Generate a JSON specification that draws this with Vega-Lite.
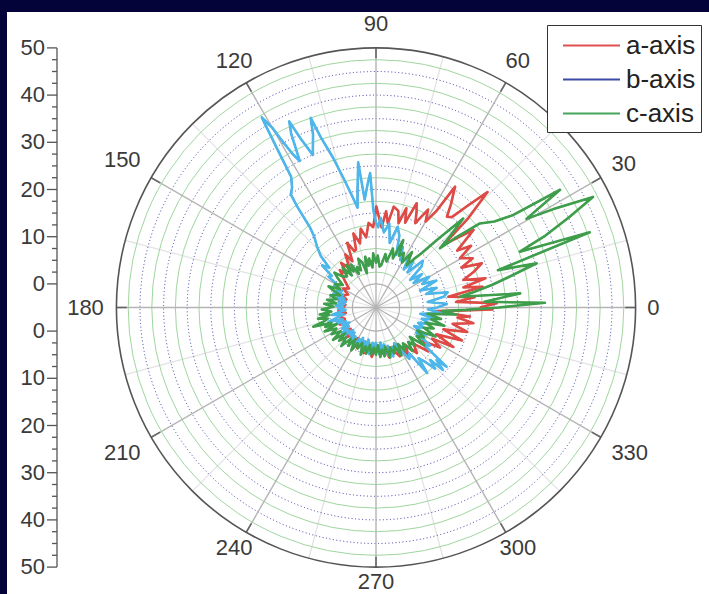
{
  "$schema": "https://vega.github.io/schema/vega-lite/v6.json",
  "width": 702,
  "height": 582,
  "autosize": {"type": "none"},
  "padding": {"left": 7, "top": 12, "right": 0, "bottom": 0},
  "background": "#03033a",
  "config": {"view": {"fill": "white", "stroke": null}, "font": "Liberation Sans"},
  "datasets": {
    "ringdata": [
      {"rr": 5, "k": "in"}, {"rr": 55, "k": "out"},
      {"rr": 7.5, "k": "g"}, {"rr": 12.5, "k": "g"}, {"rr": 17.5, "k": "g"}, {"rr": 22.5, "k": "g"}, {"rr": 27.5, "k": "g"},
      {"rr": 32.5, "k": "g"}, {"rr": 37.5, "k": "g"}, {"rr": 42.5, "k": "g"}, {"rr": 47.5, "k": "g"}, {"rr": 52.5, "k": "g"},
      {"rr": 10, "k": "b"}, {"rr": 15, "k": "b"}, {"rr": 20, "k": "b"}, {"rr": 25, "k": "b"}, {"rr": 30, "k": "b"},
      {"rr": 35, "k": "b"}, {"rr": 40, "k": "b"}, {"rr": 45, "k": "b"}, {"rr": 50, "k": "b"}
    ],
    "spokedata": [
      {"a": 0, "t": "0", "m": 1}, {"a": 15, "m": 0}, {"a": 30, "t": "30", "m": 1}, {"a": 45, "m": 0},
      {"a": 60, "t": "60", "m": 1}, {"a": 75, "m": 0}, {"a": 90, "t": "90", "m": 1}, {"a": 105, "m": 0},
      {"a": 120, "t": "120", "m": 1}, {"a": 135, "m": 0}, {"a": 150, "t": "150", "m": 1}, {"a": 165, "m": 0},
      {"a": 180, "t": "180", "m": 1}, {"a": 195, "m": 0}, {"a": 210, "t": "210", "m": 1}, {"a": 225, "m": 0},
      {"a": 240, "t": "240", "m": 1}, {"a": 255, "m": 0}, {"a": 270, "t": "270", "m": 1}, {"a": 285, "m": 0},
      {"a": 300, "t": "300", "m": 1}, {"a": 315, "m": 0}, {"a": 330, "t": "330", "m": 1}, {"a": 345, "m": 0}
    ],
    "tickdata": [
      {"v": -55, "major": 1}, {"v": -52.5, "major": 0}, {"v": -50, "major": 0}, {"v": -47.5, "major": 0}, {"v": -45, "major": 1},
      {"v": -42.5, "major": 0}, {"v": -40, "major": 0}, {"v": -37.5, "major": 0}, {"v": -35, "major": 1}, {"v": -32.5, "major": 0},
      {"v": -30, "major": 0}, {"v": -27.5, "major": 0}, {"v": -25, "major": 1}, {"v": -22.5, "major": 0}, {"v": -20, "major": 0},
      {"v": -17.5, "major": 0}, {"v": -15, "major": 1}, {"v": -12.5, "major": 0}, {"v": -10, "major": 0}, {"v": -7.5, "major": 0},
      {"v": -5, "major": 1}, {"v": 5, "major": 1}, {"v": 7.5, "major": 0}, {"v": 10, "major": 0}, {"v": 12.5, "major": 0},
      {"v": 15, "major": 1}, {"v": 17.5, "major": 0}, {"v": 20, "major": 0}, {"v": 22.5, "major": 0}, {"v": 25, "major": 1},
      {"v": 27.5, "major": 0}, {"v": 30, "major": 0}, {"v": 32.5, "major": 0}, {"v": 35, "major": 1}, {"v": 37.5, "major": 0},
      {"v": 40, "major": 0}, {"v": 42.5, "major": 0}, {"v": 45, "major": 1}, {"v": 47.5, "major": 0}, {"v": 50, "major": 0},
      {"v": 52.5, "major": 0}, {"v": 55, "major": 1}
    ],
    "seriesdata": [
      {"s":"a-axis","a":0,"r":17},{"s":"a-axis","a":2,"r":20.6},{"s":"a-axis","a":4,"r":12},{"s":"a-axis","a":6,"r":16},{"s":"a-axis","a":8.5,"r":10.5},{"s":"a-axis","a":11,"r":18},{"s":"a-axis","a":13,"r":14},{"s":"a-axis","a":15,"r":19},{"s":"a-axis","a":17.5,"r":14.4},{"s":"a-axis","a":20,"r":17},{"s":"a-axis","a":22.7,"r":19.3},{"s":"a-axis","a":25,"r":15},{"s":"a-axis","a":27,"r":18},{"s":"a-axis","a":30.4,"r":15.6},{"s":"a-axis","a":33,"r":19},{"s":"a-axis","a":35,"r":16},{"s":"a-axis","a":38.5,"r":21.4},{"s":"a-axis","a":41,"r":17},{"s":"a-axis","a":42.9,"r":14.5},{"s":"a-axis","a":44,"r":22},{"s":"a-axis","a":46,"r":29},{"s":"a-axis","a":48,"r":24},{"s":"a-axis","a":50,"r":20},{"s":"a-axis","a":52,"r":19.4},{"s":"a-axis","a":54,"r":22},{"s":"a-axis","a":56.8,"r":25.6},{"s":"a-axis","a":58,"r":19},{"s":"a-axis","a":60,"r":16},{"s":"a-axis","a":62,"r":18.5},{"s":"a-axis","a":65,"r":14.7},{"s":"a-axis","a":67,"r":17},{"s":"a-axis","a":68.7,"r":18.7},{"s":"a-axis","a":71,"r":14},{"s":"a-axis","a":73,"r":17},{"s":"a-axis","a":75,"r":13.5},{"s":"a-axis","a":77,"r":16},{"s":"a-axis","a":80,"r":16.7},{"s":"a-axis","a":82,"r":13},{"s":"a-axis","a":84,"r":15.5},{"s":"a-axis","a":86,"r":12},{"s":"a-axis","a":88,"r":14},{"s":"a-axis","a":89.8,"r":16.4},{"s":"a-axis","a":92,"r":12},{"s":"a-axis","a":95,"r":13},{"s":"a-axis","a":98,"r":10},{"s":"a-axis","a":101,"r":12},{"s":"a-axis","a":104,"r":9},{"s":"a-axis","a":107,"r":11.4},{"s":"a-axis","a":109,"r":8},{"s":"a-axis","a":111,"r":7.8},{"s":"a-axis","a":114,"r":10},{"s":"a-axis","a":117,"r":6},{"s":"a-axis","a":120,"r":8},{"s":"a-axis","a":124,"r":5},{"s":"a-axis","a":128,"r":7},{"s":"a-axis","a":131,"r":4.5},{"s":"a-axis","a":134,"r":6},{"s":"a-axis","a":140,"r":3.5},{"s":"a-axis","a":145,"r":2},{"s":"a-axis","a":150,"r":3},{"s":"a-axis","a":155,"r":1.5},{"s":"a-axis","a":160,"r":2.5},{"s":"a-axis","a":165,"r":1.5},{"s":"a-axis","a":170,"r":3},{"s":"a-axis","a":175,"r":1.5},{"s":"a-axis","a":180,"r":2},{"s":"a-axis","a":185,"r":3},{"s":"a-axis","a":190,"r":1.5},{"s":"a-axis","a":195,"r":3},{"s":"a-axis","a":200,"r":2},{"s":"a-axis","a":205,"r":3.5},{"s":"a-axis","a":210,"r":2},{"s":"a-axis","a":215,"r":3},{"s":"a-axis","a":220,"r":2},{"s":"a-axis","a":225,"r":4},{"s":"a-axis","a":230,"r":2.5},{"s":"a-axis","a":235,"r":4},{"s":"a-axis","a":240,"r":2.5},{"s":"a-axis","a":245,"r":4.5},{"s":"a-axis","a":250,"r":3},{"s":"a-axis","a":255,"r":5},{"s":"a-axis","a":260,"r":3},{"s":"a-axis","a":265,"r":5.5},{"s":"a-axis","a":270,"r":3.5},{"s":"a-axis","a":275,"r":5},{"s":"a-axis","a":280,"r":3.5},{"s":"a-axis","a":285,"r":6},{"s":"a-axis","a":290,"r":4},{"s":"a-axis","a":296,"r":6.5},{"s":"a-axis","a":300,"r":4.5},{"s":"a-axis","a":304,"r":7.5},{"s":"a-axis","a":308,"r":5},{"s":"a-axis","a":312,"r":8},{"s":"a-axis","a":316,"r":6},{"s":"a-axis","a":320,"r":9.5},{"s":"a-axis","a":324,"r":7},{"s":"a-axis","a":328,"r":11},{"s":"a-axis","a":331,"r":8.6},{"s":"a-axis","a":333,"r":13.4},{"s":"a-axis","a":336,"r":9},{"s":"a-axis","a":339,"r":14.5},{"s":"a-axis","a":342,"r":10},{"s":"a-axis","a":345,"r":15},{"s":"a-axis","a":348,"r":11.6},{"s":"a-axis","a":350.8,"r":15.9},{"s":"a-axis","a":353,"r":12.4},{"s":"a-axis","a":354.5,"r":15},{"s":"a-axis","a":356.5,"r":7.7},{"s":"a-axis","a":358,"r":13.5},{"s":"a-axis","a":359,"r":19.7},{"s":"a-axis","a":360,"r":17},

      {"s":"b-axis","a":0,"r":8},{"s":"b-axis","a":3,"r":10},{"s":"b-axis","a":6,"r":6},{"s":"b-axis","a":9,"r":9.5},{"s":"b-axis","a":12,"r":10.5},{"s":"b-axis","a":15,"r":6},{"s":"b-axis","a":18,"r":8.5},{"s":"b-axis","a":21,"r":5},{"s":"b-axis","a":24,"r":9},{"s":"b-axis","a":27,"r":6},{"s":"b-axis","a":30,"r":8},{"s":"b-axis","a":33,"r":4.5},{"s":"b-axis","a":36,"r":7},{"s":"b-axis","a":39,"r":4.3},{"s":"b-axis","a":42,"r":8},{"s":"b-axis","a":45,"r":9},{"s":"b-axis","a":48,"r":5},{"s":"b-axis","a":51,"r":7.5},{"s":"b-axis","a":54,"r":5},{"s":"b-axis","a":57,"r":8},{"s":"b-axis","a":60,"r":6.5},{"s":"b-axis","a":63,"r":6.3},{"s":"b-axis","a":66,"r":9},{"s":"b-axis","a":69,"r":7},{"s":"b-axis","a":72,"r":11},{"s":"b-axis","a":75,"r":12.7},{"s":"b-axis","a":78,"r":9},{"s":"b-axis","a":81,"r":13},{"s":"b-axis","a":84,"r":11},{"s":"b-axis","a":87,"r":14},{"s":"b-axis","a":88.5,"r":12},{"s":"b-axis","a":90,"r":13},{"s":"b-axis","a":91.5,"r":15.5},{"s":"b-axis","a":92.5,"r":23.5},{"s":"b-axis","a":94,"r":21},{"s":"b-axis","a":96,"r":18},{"s":"b-axis","a":97,"r":26},{"s":"b-axis","a":99,"r":20},{"s":"b-axis","a":100.5,"r":16.5},{"s":"b-axis","a":102,"r":19},{"s":"b-axis","a":104,"r":23},{"s":"b-axis","a":106,"r":28},{"s":"b-axis","a":108,"r":33},{"s":"b-axis","a":109,"r":37.5},{"s":"b-axis","a":110,"r":34},{"s":"b-axis","a":112.5,"r":30},{"s":"b-axis","a":114,"r":34},{"s":"b-axis","a":115,"r":38.5},{"s":"b-axis","a":116,"r":36},{"s":"b-axis","a":117.5,"r":30},{"s":"b-axis","a":118.5,"r":32},{"s":"b-axis","a":119.5,"r":36},{"s":"b-axis","a":120,"r":39},{"s":"b-axis","a":121,"r":42},{"s":"b-axis","a":122,"r":34},{"s":"b-axis","a":123,"r":28},{"s":"b-axis","a":125,"r":26},{"s":"b-axis","a":127,"r":25},{"s":"b-axis","a":128,"r":22},{"s":"b-axis","a":129.5,"r":17},{"s":"b-axis","a":131,"r":15},{"s":"b-axis","a":134,"r":13},{"s":"b-axis","a":137,"r":11},{"s":"b-axis","a":139.5,"r":8},{"s":"b-axis","a":142,"r":9.5},{"s":"b-axis","a":144.5,"r":6.5},{"s":"b-axis","a":147,"r":7},{"s":"b-axis","a":149.5,"r":4.5},{"s":"b-axis","a":152,"r":5},{"s":"b-axis","a":154.5,"r":3},{"s":"b-axis","a":157,"r":4},{"s":"b-axis","a":159.5,"r":2.5},{"s":"b-axis","a":162,"r":4.5},{"s":"b-axis","a":164.5,"r":2},{"s":"b-axis","a":167,"r":3.5},{"s":"b-axis","a":169.5,"r":1.5},{"s":"b-axis","a":172,"r":3},{"s":"b-axis","a":174.5,"r":1.8},{"s":"b-axis","a":177,"r":3.5},{"s":"b-axis","a":179.5,"r":2},{"s":"b-axis","a":182,"r":3},{"s":"b-axis","a":184.5,"r":1.5},{"s":"b-axis","a":187,"r":2.8},{"s":"b-axis","a":189.5,"r":4.5},{"s":"b-axis","a":192,"r":2},{"s":"b-axis","a":194.5,"r":3.5},{"s":"b-axis","a":197,"r":5.5},{"s":"b-axis","a":199.5,"r":2.5},{"s":"b-axis","a":202,"r":4},{"s":"b-axis","a":204.5,"r":2},{"s":"b-axis","a":207,"r":3},{"s":"b-axis","a":209.5,"r":1.5},{"s":"b-axis","a":212,"r":3.5},{"s":"b-axis","a":214.5,"r":2},{"s":"b-axis","a":217,"r":4},{"s":"b-axis","a":219.5,"r":2.5},{"s":"b-axis","a":222,"r":3.5},{"s":"b-axis","a":224.5,"r":1.8},{"s":"b-axis","a":227,"r":3},{"s":"b-axis","a":229.5,"r":2},{"s":"b-axis","a":232,"r":4},{"s":"b-axis","a":234.5,"r":2.5},{"s":"b-axis","a":237,"r":3.5},{"s":"b-axis","a":239.5,"r":5},{"s":"b-axis","a":242,"r":2.5},{"s":"b-axis","a":244.5,"r":4},{"s":"b-axis","a":247,"r":2},{"s":"b-axis","a":249.5,"r":3.5},{"s":"b-axis","a":252,"r":2.5},{"s":"b-axis","a":254.5,"r":4.5},{"s":"b-axis","a":257,"r":2},{"s":"b-axis","a":259.5,"r":3.5},{"s":"b-axis","a":262,"r":5},{"s":"b-axis","a":264.5,"r":2.5},{"s":"b-axis","a":267,"r":4},{"s":"b-axis","a":269.5,"r":2.5},{"s":"b-axis","a":272,"r":3.5},{"s":"b-axis","a":274.5,"r":5},{"s":"b-axis","a":277,"r":2.5},{"s":"b-axis","a":279.5,"r":4},{"s":"b-axis","a":282,"r":3},{"s":"b-axis","a":284.5,"r":5.5},{"s":"b-axis","a":287,"r":3.5},{"s":"b-axis","a":289.5,"r":6},{"s":"b-axis","a":292,"r":4},{"s":"b-axis","a":294.5,"r":5},{"s":"b-axis","a":297,"r":3.5},{"s":"b-axis","a":300,"r":5.3},{"s":"b-axis","a":303,"r":8},{"s":"b-axis","a":306,"r":7},{"s":"b-axis","a":308,"r":12.6},{"s":"b-axis","a":310,"r":9},{"s":"b-axis","a":312,"r":10.4},{"s":"b-axis","a":314,"r":13},{"s":"b-axis","a":316,"r":11},{"s":"b-axis","a":317,"r":14.4},{"s":"b-axis","a":319,"r":12},{"s":"b-axis","a":320,"r":14.5},{"s":"b-axis","a":322,"r":8},{"s":"b-axis","a":325,"r":9},{"s":"b-axis","a":328,"r":5},{"s":"b-axis","a":331,"r":7},{"s":"b-axis","a":334,"r":4},{"s":"b-axis","a":337,"r":6},{"s":"b-axis","a":340,"r":4.5},{"s":"b-axis","a":343,"r":7},{"s":"b-axis","a":346,"r":5},{"s":"b-axis","a":349,"r":8},{"s":"b-axis","a":352,"r":4.5},{"s":"b-axis","a":355,"r":9},{"s":"b-axis","a":358,"r":6},{"s":"b-axis","a":360,"r":8},

      {"s":"c-axis","a":0,"r":21},{"s":"c-axis","a":1.6,"r":30.8},{"s":"c-axis","a":3,"r":18},{"s":"c-axis","a":5.6,"r":25.7},{"s":"c-axis","a":7.3,"r":12.9},{"s":"c-axis","a":9,"r":16},{"s":"c-axis","a":11,"r":20},{"s":"c-axis","a":13,"r":24},{"s":"c-axis","a":15.4,"r":30.3},{"s":"c-axis","a":17,"r":22},{"s":"c-axis","a":19.4,"r":43},{"s":"c-axis","a":21.2,"r":27.7},{"s":"c-axis","a":23,"r":34},{"s":"c-axis","a":25,"r":40},{"s":"c-axis","a":27,"r":46.6},{"s":"c-axis","a":29,"r":38},{"s":"c-axis","a":30.5,"r":32},{"s":"c-axis","a":32.6,"r":41.3},{"s":"c-axis","a":34,"r":30},{"s":"c-axis","a":36,"r":26},{"s":"c-axis","a":39,"r":23.3},{"s":"c-axis","a":41,"r":18},{"s":"c-axis","a":42.8,"r":13.5},{"s":"c-axis","a":44,"r":17},{"s":"c-axis","a":45.6,"r":21.4},{"s":"c-axis","a":48,"r":14},{"s":"c-axis","a":50,"r":10},{"s":"c-axis","a":52,"r":8},{"s":"c-axis","a":54,"r":6.1},{"s":"c-axis","a":57,"r":9},{"s":"c-axis","a":60,"r":6},{"s":"c-axis","a":63,"r":8},{"s":"c-axis","a":66,"r":7},{"s":"c-axis","a":68,"r":10.4},{"s":"c-axis","a":71,"r":6},{"s":"c-axis","a":74,"r":8},{"s":"c-axis","a":77,"r":5},{"s":"c-axis","a":80,"r":6.5},{"s":"c-axis","a":83,"r":4},{"s":"c-axis","a":85,"r":3.7},{"s":"c-axis","a":88,"r":6},{"s":"c-axis","a":90,"r":4.5},{"s":"c-axis","a":93,"r":6.5},{"s":"c-axis","a":95,"r":3.5},{"s":"c-axis","a":98,"r":5.5},{"s":"c-axis","a":100,"r":4},{"s":"c-axis","a":102,"r":6},{"s":"c-axis","a":105,"r":2.5},{"s":"c-axis","a":107,"r":5},{"s":"c-axis","a":110,"r":6},{"s":"c-axis","a":112,"r":3.5},{"s":"c-axis","a":115,"r":4.5},{"s":"c-axis","a":117,"r":3},{"s":"c-axis","a":120,"r":5.5},{"s":"c-axis","a":122,"r":4},{"s":"c-axis","a":125,"r":6},{"s":"c-axis","a":127,"r":3.5},{"s":"c-axis","a":130,"r":6},{"s":"c-axis","a":133,"r":4},{"s":"c-axis","a":137,"r":4.6},{"s":"c-axis","a":140,"r":6.5},{"s":"c-axis","a":143,"r":5},{"s":"c-axis","a":146,"r":3.5},{"s":"c-axis","a":150,"r":5},{"s":"c-axis","a":153,"r":3.5},{"s":"c-axis","a":156,"r":6},{"s":"c-axis","a":158,"r":4.8},{"s":"c-axis","a":161,"r":3},{"s":"c-axis","a":165,"r":5},{"s":"c-axis","a":168,"r":3.5},{"s":"c-axis","a":171,"r":5.5},{"s":"c-axis","a":174,"r":3.5},{"s":"c-axis","a":176,"r":6},{"s":"c-axis","a":179,"r":4},{"s":"c-axis","a":182,"r":6.5},{"s":"c-axis","a":185,"r":4.5},{"s":"c-axis","a":187,"r":7},{"s":"c-axis","a":189,"r":5},{"s":"c-axis","a":191,"r":7.5},{"s":"c-axis","a":193,"r":5.5},{"s":"c-axis","a":195,"r":6.5},{"s":"c-axis","a":197,"r":8.9},{"s":"c-axis","a":199,"r":5},{"s":"c-axis","a":201,"r":6.5},{"s":"c-axis","a":203,"r":4},{"s":"c-axis","a":205,"r":7},{"s":"c-axis","a":208,"r":4.5},{"s":"c-axis","a":211,"r":6},{"s":"c-axis","a":214,"r":4},{"s":"c-axis","a":217,"r":6.4},{"s":"c-axis","a":220,"r":3.5},{"s":"c-axis","a":222,"r":5.5},{"s":"c-axis","a":225,"r":4},{"s":"c-axis","a":228,"r":6},{"s":"c-axis","a":231,"r":3.5},{"s":"c-axis","a":234,"r":5},{"s":"c-axis","a":237,"r":3},{"s":"c-axis","a":240,"r":5.5},{"s":"c-axis","a":243,"r":3.5},{"s":"c-axis","a":246,"r":4.5},{"s":"c-axis","a":249,"r":3},{"s":"c-axis","a":252,"r":5.5},{"s":"c-axis","a":255,"r":3.5},{"s":"c-axis","a":258,"r":5},{"s":"c-axis","a":261,"r":3},{"s":"c-axis","a":264,"r":5},{"s":"c-axis","a":267,"r":3.5},{"s":"c-axis","a":270,"r":5},{"s":"c-axis","a":273,"r":3},{"s":"c-axis","a":275,"r":5.5},{"s":"c-axis","a":278,"r":4},{"s":"c-axis","a":280,"r":5.5},{"s":"c-axis","a":283,"r":3.5},{"s":"c-axis","a":286,"r":6},{"s":"c-axis","a":289,"r":4},{"s":"c-axis","a":292,"r":5.5},{"s":"c-axis","a":295,"r":4},{"s":"c-axis","a":298,"r":6.5},{"s":"c-axis","a":301,"r":4},{"s":"c-axis","a":304,"r":6},{"s":"c-axis","a":307,"r":4.5},{"s":"c-axis","a":310,"r":7},{"s":"c-axis","a":313,"r":5},{"s":"c-axis","a":316,"r":6.5},{"s":"c-axis","a":319,"r":4.5},{"s":"c-axis","a":322,"r":8},{"s":"c-axis","a":325,"r":5.5},{"s":"c-axis","a":328,"r":7},{"s":"c-axis","a":331,"r":5},{"s":"c-axis","a":334,"r":9},{"s":"c-axis","a":337,"r":6},{"s":"c-axis","a":340,"r":8},{"s":"c-axis","a":343,"r":6},{"s":"c-axis","a":345,"r":10},{"s":"c-axis","a":348,"r":7},{"s":"c-axis","a":350,"r":9},{"s":"c-axis","a":353,"r":6},{"s":"c-axis","a":355,"r":12},{"s":"c-axis","a":357,"r":9},{"s":"c-axis","a":358.5,"r":14},{"s":"c-axis","a":360,"r":21}
    ]
  },
  "layer": [
    {
      "data": {"name": "spokedata"},
      "transform": [
        {"filter": "datum.m == 0"},
        {"calculate": "0", "as": "o"},
        {"calculate": "55*cos(datum.a*PI/180)", "as": "ex"},
        {"calculate": "55*sin(datum.a*PI/180)", "as": "ey"}
      ],
      "mark": {"type": "rule", "color": "#e2e2e2", "strokeWidth": 1.2},
      "encoding": {
        "x": {"field": "o", "type": "quantitative", "scale": {"domain": [-78.178, 70.551], "nice": false, "zero": false}, "axis": null},
        "y": {"field": "o", "type": "quantitative", "scale": {"domain": [-60.699, 62.606], "nice": false, "zero": false}, "axis": null},
        "x2": {"field": "ex"},
        "y2": {"field": "ey"}
      }
    },
    {
      "data": {"name": "ringdata"},
      "transform": [{"filter": "datum.k == 'g'"}, {"calculate": "0", "as": "o"}],
      "mark": {"type": "point", "shape": "circle", "filled": false, "stroke": "#9fd69f", "strokeWidth": 1, "opacity": 1},
      "encoding": {
        "x": {"field": "o", "type": "quantitative", "axis": null},
        "y": {"field": "o", "type": "quantitative", "axis": null},
        "size": {"field": "rr", "type": "quantitative", "scale": {"type": "pow", "exponent": 2, "domain": [0, 55], "range": [0, 269568.64]}, "legend": null}
      }
    },
    {
      "data": {"name": "ringdata"},
      "transform": [{"filter": "datum.k == 'b'"}, {"calculate": "0", "as": "o"}],
      "mark": {"type": "point", "shape": "circle", "filled": false, "stroke": "#3a3aa8", "strokeWidth": 1, "strokeDash": [1, 2.5], "opacity": 1},
      "encoding": {
        "x": {"field": "o", "type": "quantitative", "axis": null},
        "y": {"field": "o", "type": "quantitative", "axis": null},
        "size": {"field": "rr", "type": "quantitative", "scale": {"type": "pow", "exponent": 2, "domain": [0, 55], "range": [0, 269568.64]}, "legend": null}
      }
    },
    {
      "data": {"name": "spokedata"},
      "transform": [
        {"filter": "datum.m == 1"},
        {"calculate": "0", "as": "o"},
        {"calculate": "55*cos(datum.a*PI/180)", "as": "ex"},
        {"calculate": "55*sin(datum.a*PI/180)", "as": "ey"}
      ],
      "mark": {"type": "rule", "color": "#b4b4b4", "strokeWidth": 1.4},
      "encoding": {
        "x": {"field": "o", "type": "quantitative", "axis": null},
        "y": {"field": "o", "type": "quantitative", "axis": null},
        "x2": {"field": "ex"},
        "y2": {"field": "ey"}
      }
    },
    {
      "data": {"name": "spokedata"},
      "transform": [
        {"filter": "datum.m == 1"},
        {"calculate": "52.8*cos(datum.a*PI/180)", "as": "sx"},
        {"calculate": "52.8*sin(datum.a*PI/180)", "as": "sy"},
        {"calculate": "55*cos(datum.a*PI/180)", "as": "ex"},
        {"calculate": "55*sin(datum.a*PI/180)", "as": "ey"}
      ],
      "mark": {"type": "rule", "color": "#666666", "strokeWidth": 1.6},
      "encoding": {
        "x": {"field": "sx", "type": "quantitative", "axis": null},
        "y": {"field": "sy", "type": "quantitative", "axis": null},
        "x2": {"field": "ex"},
        "y2": {"field": "ey"}
      }
    },
    {
      "data": {"name": "ringdata"},
      "transform": [{"filter": "datum.k == 'in'"}, {"calculate": "0", "as": "o"}],
      "mark": {"type": "point", "shape": "circle", "filled": false, "stroke": "#b0b0b0", "strokeWidth": 1.2, "opacity": 1},
      "encoding": {
        "x": {"field": "o", "type": "quantitative", "axis": null},
        "y": {"field": "o", "type": "quantitative", "axis": null},
        "size": {"field": "rr", "type": "quantitative", "scale": {"type": "pow", "exponent": 2, "domain": [0, 55], "range": [0, 269568.64]}, "legend": null}
      }
    },
    {
      "data": {"name": "ringdata"},
      "transform": [{"filter": "datum.k == 'out'"}, {"calculate": "0", "as": "o"}],
      "mark": {"type": "point", "shape": "circle", "filled": false, "stroke": "#555555", "strokeWidth": 1.6, "opacity": 1},
      "encoding": {
        "x": {"field": "o", "type": "quantitative", "axis": null},
        "y": {"field": "o", "type": "quantitative", "axis": null},
        "size": {"field": "rr", "type": "quantitative", "scale": {"type": "pow", "exponent": 2, "domain": [0, 55], "range": [0, 269568.64]}, "legend": null}
      }
    },
    {
      "data": {"name": "tickdata"},
      "transform": [
        {"calculate": "-67.585", "as": "ax"},
        {"calculate": "datum.major == 1 ? -69.703 : -68.645", "as": "tx"}
      ],
      "mark": {"type": "rule", "color": "#555555", "strokeWidth": 1.3},
      "encoding": {
        "x": {"field": "tx", "type": "quantitative", "axis": null},
        "x2": {"field": "ax"},
        "y": {"field": "v", "type": "quantitative", "axis": null}
      }
    },
    {
      "data": {"name": "tickdata"},
      "transform": [
        {"filter": "datum.major == 1"},
        {"calculate": "-70.127", "as": "lx"},
        {"calculate": "format(abs(datum.v) - 5, 'd')", "as": "lab"}
      ],
      "mark": {"type": "text", "font": "Liberation Sans", "fontSize": 22, "color": "#3a3a3a", "align": "right", "baseline": "middle"},
      "encoding": {
        "x": {"field": "lx", "type": "quantitative", "axis": null},
        "y": {"field": "v", "type": "quantitative", "axis": null},
        "text": {"field": "lab"}
      }
    },
    {
      "data": {"values": [{"y0": -55, "y1": 55}]},
      "transform": [{"calculate": "-67.585", "as": "ax"}],
      "mark": {"type": "rule", "color": "#555555", "strokeWidth": 1.3},
      "encoding": {
        "x": {"field": "ax", "type": "quantitative", "axis": null},
        "y": {"field": "y0", "type": "quantitative", "axis": null},
        "y2": {"field": "y1"}
      }
    },
    {
      "data": {"name": "seriesdata"},
      "transform": [
        {"calculate": "(datum.r + 5)*cos(datum.a*PI/180)", "as": "px"},
        {"calculate": "(datum.r + 5)*sin(datum.a*PI/180)", "as": "py"}
      ],
      "mark": {"type": "line", "strokeWidth": 1.6, "strokeJoin": "round"},
      "encoding": {
        "x": {"field": "px", "type": "quantitative", "axis": null},
        "y": {"field": "py", "type": "quantitative", "axis": null},
        "order": {"field": "a", "type": "quantitative"},
        "color": {
          "field": "s", "type": "nominal",
          "scale": {"domain": ["a-axis", "b-axis", "c-axis"], "range": ["#e05050", "#3b4aa6", "#45a55a"]},
          "legend": {
            "orient": "none", "legendX": 540, "legendY": 13, "title": null, "zindex": 2,
            "symbolType": "M-2,0H2", "symbolSize": 812, "symbolStrokeWidth": 2, "symbolOffset": 24,
            "labelFont": "Liberation Sans", "labelFontSize": 26, "labelColor": "#222222", "labelOffset": 19,
            "strokeColor": "#333333", "fillColor": "white", "padding": 5, "rowPadding": 5
          }
        }
      }
    },
    {
      "data": {"name": "seriesdata"},
      "transform": [
        {"calculate": "(datum.r + 5)*cos(datum.a*PI/180)", "as": "px"},
        {"calculate": "(datum.r + 5)*sin(datum.a*PI/180)", "as": "py"}
      ],
      "mark": {"type": "line", "strokeWidth": 2.6, "strokeJoin": "round"},
      "encoding": {
        "x": {"field": "px", "type": "quantitative", "axis": null},
        "y": {"field": "py", "type": "quantitative", "axis": null},
        "order": {"field": "a", "type": "quantitative"},
        "stroke": {"field": "s", "type": "nominal", "scale": {"domain": ["a-axis", "b-axis", "c-axis"], "range": ["#de4a45", "#4db6ea", "#3e9e4c"]}, "legend": null}
      }
    },
    {
      "data": {"name": "spokedata"},
      "transform": [
        {"filter": "datum.m == 1"},
        {"calculate": "cos(datum.a*PI/180)", "as": "c"},
        {"calculate": "sin(datum.a*PI/180)", "as": "sn"},
        {"calculate": "271 + min(length(datum.t)*6.5/max(abs(datum.c), 0.000001), 11/max(abs(datum.sn), 0.000001))", "as": "reff"},
        {"calculate": "datum.reff*datum.c/4.72", "as": "lx"},
        {"calculate": "(datum.reff*datum.sn + (datum.sn > 0 ? 1.5*datum.sn : -8*datum.sn*datum.sn*datum.sn))/4.72", "as": "ly"}
      ],
      "mark": {"type": "text", "font": "Liberation Sans", "fontSize": 22, "color": "#3a3a3a", "align": "center", "baseline": "middle"},
      "encoding": {
        "x": {"field": "lx", "type": "quantitative", "axis": null},
        "y": {"field": "ly", "type": "quantitative", "axis": null},
        "text": {"field": "t"}
      }
    }
  ]
}
